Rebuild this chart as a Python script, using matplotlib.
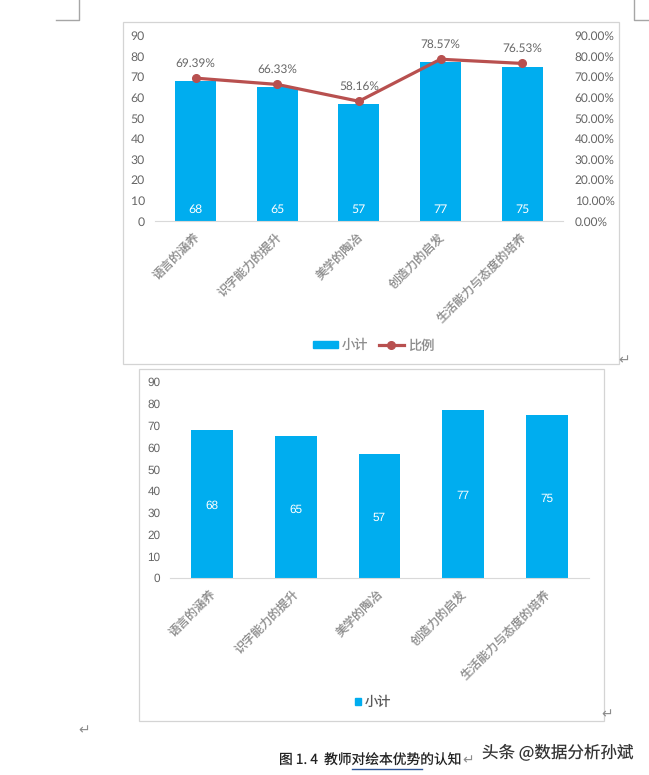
import matplotlib
matplotlib.use("Agg")
import matplotlib.pyplot as plt
from matplotlib.lines import Line2D
from matplotlib.patches import Patch, Rectangle
from matplotlib.transforms import ScaledTranslation

plt.rcParams["text.hinting"] = "none"

W, H = 649, 775
CJK = ["Noto Sans CJK SC", "DejaVu Sans"]
BLUE = "#00adef"
RED = "#b8504f"
GREY = "#8c8c8c"
DARK = "#666666"

categories = ["语言的涵养", "识字能力的提升", "美学的陶冶", "创造力的启发", "生活能力与态度的培养"]
counts = [68, 65, 57, 77, 75]
ratios = [69.39, 66.33, 58.16, 78.57, 76.53]
count_ticks = [0, 10, 20, 30, 40, 50, 60, 70, 80, 90]
ratio_ticks = [0, 10, 20, 30, 40, 50, 60, 70, 80, 90]

fig = plt.figure(figsize=(W / 100, H / 100), dpi=100, facecolor="white")


def px_axes(left, top, right, bottom):
    return fig.add_axes([left / W, 1 - bottom / H, (right - left) / W, (bottom - top) / H])


# 页面上的线和文字用像素坐标
page = fig.add_axes([0, 0, 1, 1])
page.set_xlim(0, W)
page.set_ylim(H, 0)
page.axis("off")
page.add_patch(Rectangle((123, 22), 496, 342, fc="white", ec="#d4d4d4", lw=0.9))
page.add_patch(Rectangle((139, 368.5), 464.5, 352, fc="white", ec="#d4d4d4", lw=0.9))
page.plot([56, 79, 79], [20, 20, 0], color="#a6a6a6", lw=1)
page.plot([649, 634, 634], [20, 20, 0], color="#a6a6a6", lw=1)
for x, y in [(624, 361), (607, 715), (84, 731), (468, 761)]:
    page.text(x, y, "↵", fontsize=10, color="#8c8c8c", ha="center", va="center", family="DejaVu Sans")
page.text(279, 761, "图 1. 4  教师对绘本优势的认知", fontsize=9.9, color="#222222", va="center", family=CJK)
page.plot([352, 422], [768.5, 768.5], color="#2f5597", lw=1)
page.text(482, 752, "头条 @数据分析孙斌", fontsize=11.9, color="#333333", va="center", family=CJK)


def base_axes(ax, label_font, label_size, shift_px):
    ax.set_xlim(-0.5, 4.5)
    ax.set_ylim(0, 90)
    ax.set_yticks(count_ticks)
    ax.patch.set_alpha(0)
    for side in ["top", "left", "right"]:
        ax.spines[side].set_visible(False)
    ax.spines["bottom"].set_color("#d9d9d9")
    ax.tick_params(length=0, pad=7)
    ax.tick_params(axis="y", labelsize=label_size, labelcolor=DARK)
    for t in ax.get_yticklabels():
        t.set_family(label_font)
    ax.set_xticks(range(len(categories)))
    ax.set_xticklabels(categories, rotation=45, ha="right", va="top", rotation_mode="anchor",
                       fontsize=8.7, color=GREY, family=CJK)
    # 标签稍微往左移
    for t in ax.get_xticklabels():
        t.set_transform(t.get_transform() + ScaledTranslation(-shift_px / 100, 0, fig.dpi_scale_trans))


# 上面的组合图
ax1 = px_axes(154.7, 35.7, 563, 221)
ax1.bar(range(5), counts, width=0.5, color=BLUE)
base_axes(ax1, "Lato", 8.8, 2)
for i, v in enumerate(counts):
    ax1.text(i, 5.5, str(v), color="white", fontsize=8.8, ha="center", va="center", family="Lato")

ax1r = ax1.twinx()
ax1r.set_ylim(0, 90)
ax1r.set_yticks(ratio_ticks)
ax1r.set_yticklabels([f"{t:.2f}%" for t in ratio_ticks], fontsize=8.6, color=DARK, family="Lato")
ax1r.tick_params(length=0, pad=8.5)
for side in ["top", "left", "right", "bottom"]:
    ax1r.spines[side].set_visible(False)
ax1r.plot(range(5), ratios, color=RED, lw=2.3, marker="o", ms=5.5)
for i, v in enumerate(ratios):
    ax1r.text(i, v + 4.5, f"{v:.2f}%", color=DARK, fontsize=8.6, ha="center", va="bottom",
              family="Lato", linespacing=1)

fig.legend([Patch(color=BLUE), Line2D([], [], color=RED, lw=2.3, marker="o", ms=5.5)], ["小计", "比例"],
           loc="center", bbox_to_anchor=(373.5 / W, 1 - 345.5 / H), ncol=2, frameon=False,
           prop={"family": CJK, "size": 9.5}, labelcolor=GREY, handlelength=1.9, handleheight=0.5,
           handletextpad=0.3, columnspacing=0.8)

# 下面的柱状图
ax2 = px_axes(170.2, 382, 588.7, 578)
ax2.bar(range(5), counts, width=0.5, color=BLUE)
base_axes(ax2, "Liberation Sans", 8.5, 3)
for i, v in enumerate(counts):
    ax2.text(i, v / 2 - 1, str(v), color="white", fontsize=8.5, ha="center", va="center",
             family="Liberation Sans")

fig.legend([Patch(color=BLUE)], ["小计"], loc="center", bbox_to_anchor=(373 / W, 1 - 702 / H), frameon=False,
           prop={"family": CJK, "size": 9.5}, labelcolor="#595959", handlelength=0.45, handleheight=0.45,
           handletextpad=0.3)

fig.savefig("out.png", dpi=100)
